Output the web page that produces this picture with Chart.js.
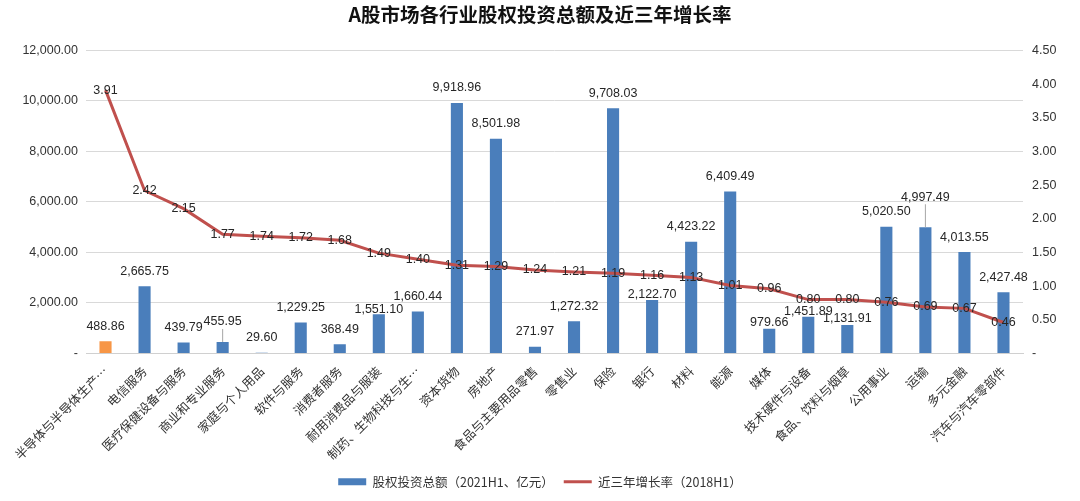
<!DOCTYPE html>
<html>
<head>
<meta charset="utf-8">
<script src="https://cdn.jsdelivr.net/npm/chart.js@4"></script>
<style>
  html, body { margin: 0; padding: 0; background: #fff; }
  #wrap { width: 1080px; height: 501px; }
</style>
</head>
<body>
<div id="wrap"><canvas id="mainChart"></canvas></div>
<script>
// industries, sorted by 3-year growth rate
const categories = [
    '半导体与半导体生产…', '电信服务', '医疗保健设备与服务', '商业和专业服务', '家庭与个人用品',
    '软件与服务', '消费者服务', '耐用消费品与服装', '制药、生物科技与生…', '资本货物',
    '房地产', '食品与主要用品零售', '零售业', '保险', '银行', '材料', '能源', '媒体',
    '技术硬件与设备', '食品、饮料与烟草', '公用事业', '运输', '多元金融', '汽车与汽车零部件'
];
const investTotal = [
    488.86, 2665.75, 439.79, 455.95, 29.60, 1229.25, 368.49, 1551.10, 1660.44, 9918.96,
    8501.98, 271.97, 1272.32, 9708.03, 2122.70, 4423.22, 6409.49, 979.66, 1451.89, 1131.91,
    5020.50, 4997.49, 4013.55, 2427.48
];
const growthRate = [
    3.91, 2.42, 2.15, 1.77, 1.74, 1.72, 1.68, 1.49, 1.40, 1.31, 1.29, 1.24,
    1.21, 1.19, 1.16, 1.13, 1.01, 0.96, 0.80, 0.80, 0.76, 0.69, 0.67, 0.46
];

const BLUE = '#4a7ebb';
const ORANGE = '#f79646';
const RED = '#c0504d';

const fmt = (v, d) => v.toLocaleString('en-US', {minimumFractionDigits: d, maximumFractionDigits: d});

// hand-placed label tweaks, like the original's dragged data labels (index -> px)
const labelNudge = { 3: -5, 7: 10, 14: 10, 17: 9, 18: 10, 19: 9, 21: -15 };
const leaderLines = [3, 21];

// value labels on top of bars / centered on line points
const valueLabels = {
    id: 'valueLabels',
    afterDatasetsDraw(chart) {
        const ctx = chart.ctx;
        ctx.save();
        ctx.font = '12.5px "Liberation Sans", Arial, sans-serif';
        ctx.textAlign = 'center';
        ctx.textBaseline = 'middle';
        chart.getDatasetMeta(0).data.forEach((bar, i) => {
            const y = bar.y - 15 + (labelNudge[i] || 0);
            if (leaderLines.includes(i)) {
                ctx.strokeStyle = '#a6a6a6';
                ctx.lineWidth = 1;
                ctx.beginPath();
                ctx.moveTo(bar.x, y + 7);
                ctx.lineTo(bar.x, bar.y);
                ctx.stroke();
            }
            ctx.fillStyle = '#262626';
            ctx.fillText(fmt(investTotal[i], 2), bar.x, y);
        });
        chart.getDatasetMeta(1).data.forEach((pt, i) => {
            ctx.fillText(fmt(growthRate[i], 2), pt.x, pt.y);
        });
        ctx.restore();
    }
};

const ctx = document.getElementById('mainChart');

new Chart(ctx, {
    data: {
        labels: categories,
        datasets: [{
            type: 'bar',
            label: '股权投资总额（2021H1、亿元）',
            data: investTotal,
            backgroundColor: investTotal.map((v, i) => i === 0 ? ORANGE : BLUE),
            yAxisID: 'y',
            barPercentage: 0.62,
            categoryPercentage: 0.5,
            order: 2
        }, {
            type: 'line',
            label: '近三年增长率（2018H1）',
            data: growthRate,
            borderColor: RED,
            backgroundColor: RED,
            borderWidth: 3,
            pointRadius: 0,
            tension: 0,
            yAxisID: 'y1',
            order: 1
        }]
    },
    options: {
        responsive: true,
        maintainAspectRatio: false,
        animation: false,
        layout: { padding: { left: 0, right: 0, top: 0, bottom: 3 } },
        plugins: {
            title: {
                display: true,
                text: 'A股市场各行业股权投资总额及近三年增长率',
                color: '#111',
                font: { family: '"Noto Sans CJK SC", sans-serif', size: 19.5, weight: 'bold' },
                padding: { top: 3, bottom: 24 }
            },
            legend: {
                position: 'bottom',
                labels: {
                    color: '#333',
                    font: { family: '"Noto Sans CJK SC", sans-serif', size: 12.5 },
                    usePointStyle: true,
                    pointStyleWidth: 28,
                    boxHeight: 7,
                    padding: 10,
                    generateLabels(chart) {
                        const items = Chart.defaults.plugins.legend.labels.generateLabels(chart);
                        items.sort((a, b) => a.datasetIndex - b.datasetIndex);
                        items[0].pointStyle = 'rect';
                        items[0].fillStyle = BLUE;
                        items[0].strokeStyle = BLUE;
                        items[0].lineWidth = 0;
                        items[1].pointStyle = 'line';
                        items[1].strokeStyle = RED;
                        items[1].lineWidth = 3;
                        return items;
                    }
                }
            },
            tooltip: { enabled: false }
        },
        scales: {
            x: {
                grid: { display: false, drawTicks: false },
                border: { color: '#d0d0d0' },
                ticks: {
                    color: '#333',
                    font: { family: '"Noto Sans CJK SC", sans-serif', size: 12.5 },
                    minRotation: 45,
                    maxRotation: 45,
                    autoSkip: false,
                    padding: 10
                },
                afterFit(scale) { scale.height = 112; }
            },
            y: {
                position: 'left',
                min: 0,
                max: 12000,
                grid: { color: '#d9d9d9', drawTicks: false },
                border: { display: false },
                ticks: {
                    stepSize: 2000,
                    color: '#333',
                    padding: 8,
                    font: { family: '"Liberation Sans", Arial, sans-serif', size: 12.5 },
                    callback: v => v === 0 ? '-' : fmt(v, 2)
                },
                afterFit(scale) { scale.width = 86; }
            },
            y1: {
                position: 'right',
                min: 0,
                max: 4.5,
                grid: { display: false, drawTicks: false },
                border: { display: false },
                ticks: {
                    stepSize: 0.5,
                    color: '#333',
                    padding: 9,
                    font: { family: '"Liberation Sans", Arial, sans-serif', size: 12.5 },
                    callback: v => v === 0 ? '-' : fmt(v, 2)
                },
                afterFit(scale) { scale.width = 57; }
            }
        }
    },
    plugins: [valueLabels]
});
</script>
</body>
</html>
